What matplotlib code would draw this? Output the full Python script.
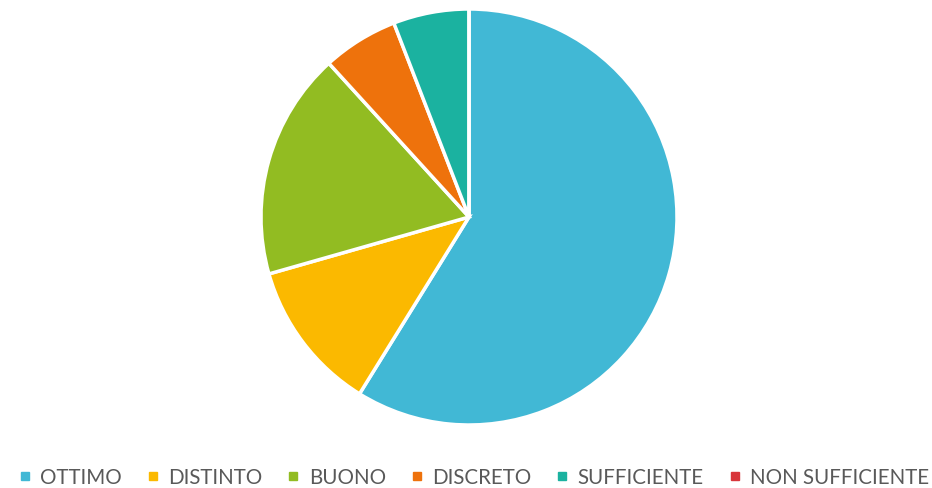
import matplotlib.pyplot as plt
from matplotlib.lines import Line2D

categories = ["OTTIMO", "DISTINTO", "BUONO", "DISCRETO", "SUFFICIENTE", "NON SUFFICIENTE"]
values = [10, 2, 3, 1, 1, 0]
colors = ["#41B8D5", "#FBB900", "#92BC22", "#EE720C", "#1BB2A0", "#D8363B"]

W, H = 932, 489
fig = plt.figure(figsize=(W / 100, H / 100), dpi=100)

cx, cy, r = 469, 218, 208
ax = fig.add_axes([(cx - r) / W, (H - cy - r) / H, 2 * r / W, 2 * r / H])
ax.pie(values, colors=colors, startangle=90, counterclock=False, radius=1,
       wedgeprops={"edgecolor": "white", "linewidth": 2.5})
ax.set_xlim(-1, 1)
ax.set_ylim(-1, 1)
ax.set_aspect("equal")
ax.axis("off")

handles = [Line2D([], [], marker="s", linestyle="none", markersize=6,
                  markerfacecolor=c, markeredgecolor=c) for c in colors]
fig.legend(handles, categories, loc="center", bbox_to_anchor=(474 / W, 1 - 478 / H),
           ncol=6, frameon=False, handlelength=0.6, handletextpad=0.45,
           columnspacing=1.2, prop={"family": "Lato", "size": 14.8},
           labelcolor="#595959")

fig.savefig("out.png", dpi=100)
